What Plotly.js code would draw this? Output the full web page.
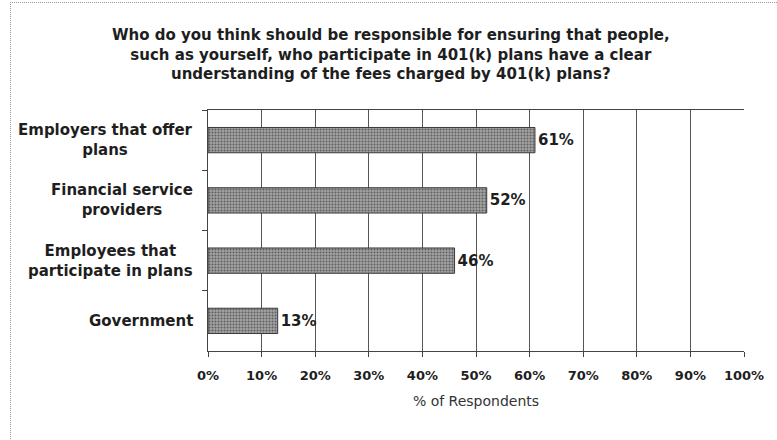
<!DOCTYPE html>
<html>
<head>
<meta charset="utf-8">
<script src="https://cdn.plot.ly/plotly-3.0.1.min.js"></script>
<style>
  html, body { margin: 0; padding: 0; background: #fff; }
  #wrap { position: relative; width: 777px; height: 440px; }
  #frame { position: absolute; left: 10px; top: 2px; width: 780px; height: 460px;
           border-left: 1px dotted #999; border-top: 1px dotted #999; pointer-events: none; }
  #chart { width: 777px; height: 440px; }
</style>
</head>
<body>
<div id="wrap">
  <div id="chart"></div>
  <div id="frame"></div>
</div>
<script>
const categories = [
  "Employers that offer<br>plans",
  "Financial service<br>providers",
  "Employees that<br>participate in plans",
  "Government"
];
const values = [61, 52, 46, 13];
const xTickVals = [0, 10, 20, 30, 40, 50, 60, 70, 80, 90, 100];
const xTickText = ["0%", "10%", "20%", "30%", "40%", "50%", "60%", "70%", "80%", "90%", "100%"];
const titleText = "Who do you think should be responsible for ensuring that people,<br>such as yourself, who participate in 401(k) plans have a clear<br>understanding of the fees charged by 401(k) plans?";
const xTitle = "% of Respondents";

const font = "DejaVu Sans, Verdana, sans-serif";
const ink = "#1e1e1e";

const trace = {
  type: "bar",
  orientation: "h",
  y: categories,
  x: values,
  width: 0.42,
  marker: {
    color: "#979797",
    line: { color: "#3a3a3a", width: 1 },
    pattern: { shape: ".", fgcolor: "#5e5e5e", bgcolor: "#a2a2a2", size: 3, solidity: 0.35 }
  },
  text: values.map(v => v + "%"),
  textposition: "outside",
  cliponaxis: false,
  textfont: { family: font, size: 15, color: ink, weight: "bold" },
  hoverinfo: "skip"
};

// category labels, centred multi-line, placed on the category axis
const catAnnotations = categories.map(c => ({
  xref: "paper", yref: "y",
  x: -0.024, y: c,
  text: c,
  showarrow: false,
  xanchor: "right", yanchor: "middle",
  align: "center",
  font: { family: font, size: 15, color: ink, weight: "bold" }
}));

const layout = {
  width: 777,
  height: 440,
  margin: { l: 208, r: 33, t: 110, b: 89 },
  paper_bgcolor: "#fff",
  plot_bgcolor: "#fff",
  showlegend: false,
  title: {
    text: titleText,
    font: { family: font, size: 15, color: ink, weight: "bold" },
    x: 0.503, xanchor: "center",
    xref: "container",
    y: 0.908, yanchor: "middle",
    yref: "container"
  },
  annotations: catAnnotations,
  xaxis: {
    range: [0, 100],
    tickvals: xTickVals,
    ticktext: xTickText,
    showgrid: true,
    gridcolor: "#555",
    gridwidth: 1,
    zeroline: false,
    showline: true,
    linecolor: "#444",
    linewidth: 1,
    mirror: true,
    ticks: "outside",
    ticklen: 5,
    tickcolor: "#444",
    ticklabelstandoff: 7,
    tickfont: { family: font, size: 13, color: ink, weight: "bold" },
    title: { text: xTitle, font: { family: font, size: 14, color: "#333" }, standoff: 14 },
    fixedrange: true
  },
  yaxis: {
    autorange: "reversed",
    type: "category",
    showgrid: false,
    zeroline: false,
    showline: true,
    linecolor: "#444",
    linewidth: 1,
    ticks: "outside",
    tickson: "boundaries",
    ticklen: 5,
    tickcolor: "#444",
    showticklabels: false,
    fixedrange: true
  }
};

Plotly.newPlot("chart", [trace], layout, { displayModeBar: false, staticPlot: true });
</script>
</body>
</html>
